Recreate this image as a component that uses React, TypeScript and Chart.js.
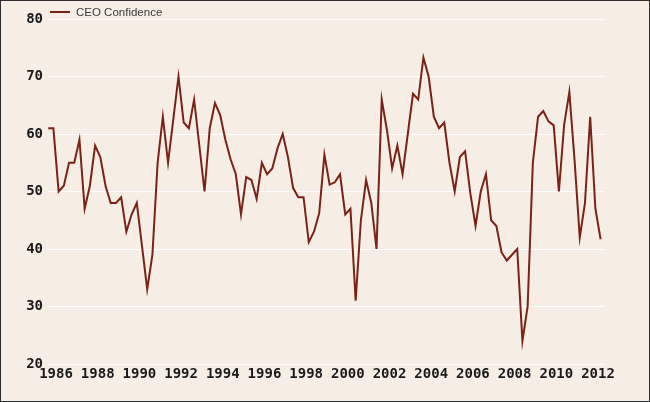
import React, { useEffect, useRef } from "react";
import { Chart, registerables } from "chart.js";

Chart.register(...registerables);

// Quarterly CEO Confidence readings, first reading is 1985 Q3 (plotted at quarter mid-points)
const FIRST_YEAR = 1985;
const FIRST_QUARTER = 3;
const ceoConfidence: number[] = [
  61, 61, 50, 51, 55, 55, 59, 47, 51, 58,
  56, 51, 48, 48, 49, 43, 46, 48, 40.5, 33,
  39, 55, 63, 55, 62.5, 70, 62, 61, 66, 58,
  50, 61, 65.4, 63.3, 59, 55.6, 53, 46, 52.5, 52,
  48.7, 55, 53, 54, 57.5, 60, 56, 50.6, 49, 49,
  41.2, 43, 46.2, 56.4, 51.2, 51.6, 53, 46, 47, 31,
  45, 52, 48, 40, 66, 60.7, 54, 58, 53, 60,
  67, 66, 73.3, 70, 63, 61, 62, 55, 50, 56,
  57, 49.7, 44, 50, 53, 45, 44, 39.4, 38, 39,
  40, 24, 30, 55, 63, 64, 62.2, 61.5, 50, 61.6,
  67.3, 55.5, 42, 48, 63, 47, 41.7,
];
const yearTicks: number[] = [1986, 1988, 1990, 1992, 1994, 1996, 1998, 2000, 2002, 2004, 2006, 2008, 2010, 2012];
const valueTicks: number[] = [20, 30, 40, 50, 60, 70, 80];
const SERIES_LABEL = "CEO Confidence";

const LINE_COLOR = "#7a2216";
const BG = "#f6eee5";

export default function App() {
  const ref = useRef<HTMLCanvasElement | null>(null);

  useEffect(() => {
    document.body.style.margin = "0";
    const canvas = ref.current;
    if (!canvas) return;

    const points = ceoConfidence.map((v, i) => {
      const qIndex = FIRST_QUARTER - 1 + i;
      const year = FIRST_YEAR + Math.floor(qIndex / 4);
      const q = qIndex % 4;
      return { x: year + (q + 0.5) / 4, y: v };
    });

    const legendPlugin = {
      id: "customLegend",
      afterDraw(chart: any) {
        const ctx = chart.ctx;
        ctx.save();
        ctx.strokeStyle = LINE_COLOR;
        ctx.lineWidth = 2;
        ctx.beginPath();
        ctx.moveTo(50, 12);
        ctx.lineTo(70, 12);
        ctx.stroke();
        ctx.fillStyle = "#3a3a3a";
        ctx.font = "11.5px 'Liberation Sans', Arial, sans-serif";
        ctx.textBaseline = "middle";
        ctx.textAlign = "left";
        ctx.fillText(chart.data.datasets[0].label, 76, 12.5);
        ctx.restore();
      },
    };

    const tickFont = { family: "'DejaVu Sans Mono', monospace", size: 14, weight: "bold" as const };

    const chart = new Chart(canvas, {
      type: "line",
      data: {
        datasets: [
          {
            label: SERIES_LABEL,
            data: points,
            borderColor: LINE_COLOR,
            backgroundColor: LINE_COLOR,
            borderWidth: 2,
            pointRadius: 0,
            tension: 0,
            fill: false,
          },
        ],
      },
      options: {
        responsive: false,
        animation: false,
        parsing: true,
        layout: { padding: { left: 0, right: 46, top: 19, bottom: 0 } },
        plugins: {
          legend: { display: false },
          tooltip: { enabled: false },
        },
        scales: {
          x: {
            type: "linear",
            min: 1985.616,
            max: 2012.288,
            grid: { display: false, drawTicks: false },
            border: { display: false },
            afterBuildTicks: (axis: any) => {
              axis.ticks = yearTicks.map((v) => ({ value: v }));
            },
            afterFit: (axis: any) => {
              axis.height = 38;
            },
            ticks: {
              autoSkip: false,
              maxRotation: 0,
              padding: 2,
              color: "#1a1a1a",
              font: tickFont,
              callback: (v: any) => String(v),
            },
          },
          y: {
            type: "linear",
            min: 20,
            max: 80,
            grid: { color: "#ffffff", lineWidth: 1, drawTicks: false },
            border: { display: false },
            afterBuildTicks: (axis: any) => {
              axis.ticks = valueTicks.map((v) => ({ value: v }));
            },
            afterFit: (axis: any) => {
              axis.width = 48;
            },
            ticks: {
              padding: 5,
              color: "#1a1a1a",
              font: tickFont,
              callback: (v: any) => String(v),
            },
          },
        },
      },
      plugins: [legendPlugin],
    });

    return () => chart.destroy();
  }, []);

  return (
    <div
      style={{
        position: "relative",
        width: 650,
        height: 402,
        background: BG,
        outline: "1px solid #2e2e2e",
        outlineOffset: -1,
        overflow: "hidden",
      }}
    >
      <canvas ref={ref} width={650} height={402} style={{ display: "block" }} />
    </div>
  );
}
